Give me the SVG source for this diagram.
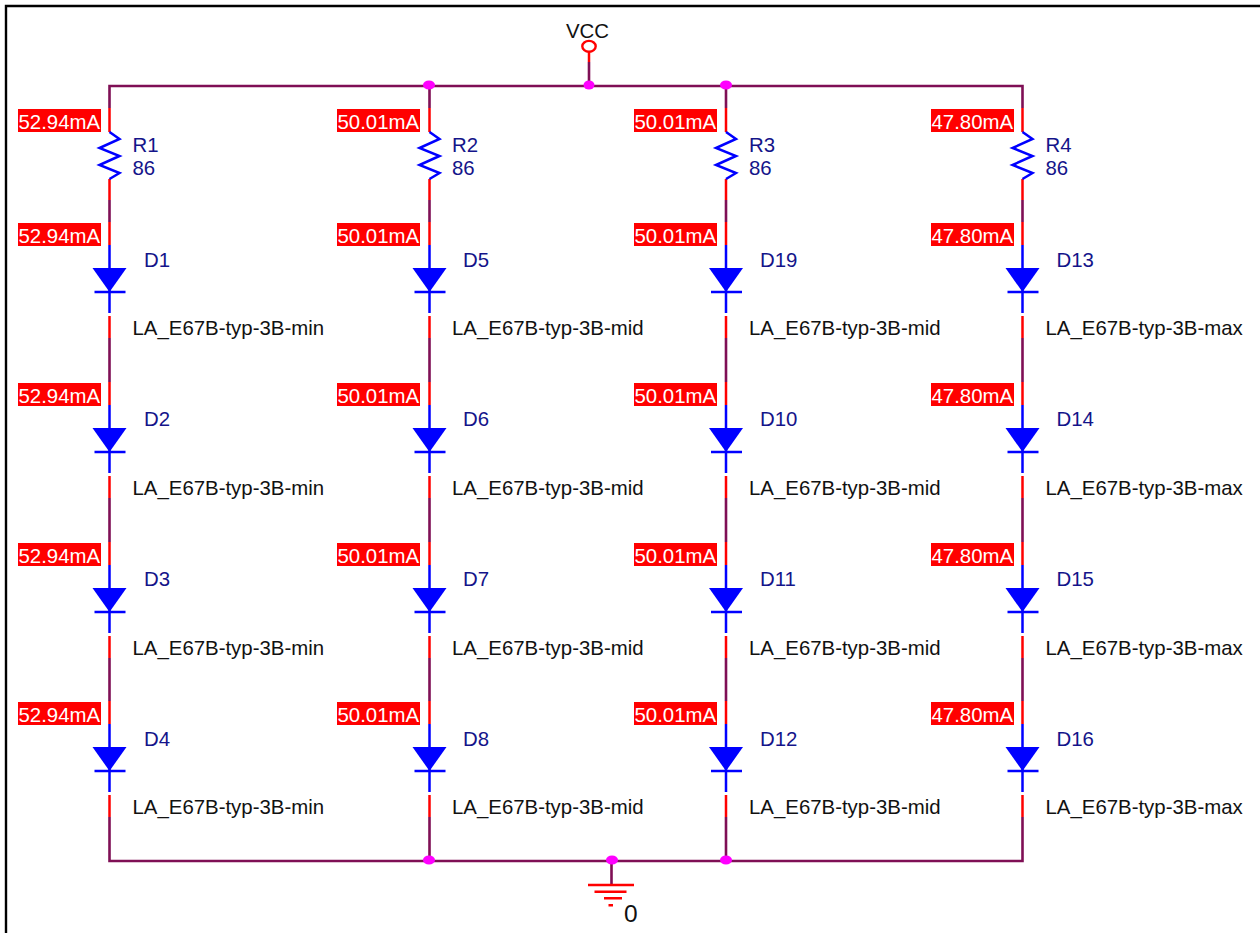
<svg xmlns="http://www.w3.org/2000/svg" xmlns:xlink="http://www.w3.org/1999/xlink" width="1260" height="933" viewBox="0 0 1260 933">
<style>
text{font-family:"Liberation Sans",Arial,sans-serif;font-size:20.4px}
.w{fill:none;stroke:#7f0f55;stroke-width:2.6}
.r{fill:none;stroke:#f00;stroke-width:2.5}
.b{fill:none;stroke:#00f;stroke-width:2.5}
.n{fill:#14148a}
.k{fill:#111}
.c{fill:#fff}
.f{fill:#f00}
.j{fill:#f0f}
</style>
<defs>
<g id="res"><path class="r" d="M0 22V46M0 93V114"/><path class="b" d="M0 46 L10 53 L-10 62 L10 70 L-10 79 L10 87 L0 93"/></g>
<g id="dio"><path class="r" d="M0 0V23M0 94V116"/><path class="b" d="M0 23V91M-15 70H16"/><path d="M-17 46H17L0 70Z" fill="#00f"/></g>
</defs>
<rect width="1260" height="933" fill="#fff"/>
<path d="M6 933V6H1260" fill="none" stroke="#000" stroke-width="2.4"/>
<g id="connectors">
<path class="w" d="M109.5 108V86H1022.5V108"/>
<path class="w" d="M429.5 86V108M726 86V108M589 62V86"/>
<path class="w" d="M109.5 200V222M429.5 200V222M726 200V222M1022.5 200V222"/>
<path class="w" d="M109.5 338V382M429.5 338V382M726 338V382M1022.5 338V382"/>
<path class="w" d="M109.5 498V542M429.5 498V542M726 498V542M1022.5 498V542"/>
<path class="w" d="M109.5 658V701M429.5 658V701M726 658V701M1022.5 658V701"/>
<path class="w" d="M109.5 817V861H1022.5V817M429.5 817V861M726 817V861M611.5 861V884"/>
<ellipse class="j" cx="429" cy="85" rx="6" ry="4.6"/><ellipse class="j" cx="589" cy="85" rx="5.5" ry="4.6"/><ellipse class="j" cx="726" cy="85" rx="6" ry="4.6"/>
<ellipse class="j" cx="429" cy="860" rx="6" ry="4.6"/><ellipse class="j" cx="612" cy="860" rx="6" ry="4.6"/><ellipse class="j" cx="726" cy="860" rx="6" ry="4.6"/>
</g>
<g id="VCC"><text class="k" x="566" y="38">VCC</text><ellipse cx="589" cy="46.3" rx="6.7" ry="5.4" fill="none" stroke="#f00" stroke-width="2.4"/><path class="r" d="M589 52V62"/></g>
<g id="GND"><path class="r" d="M588 885H634M594.5 891.7H626.5M604 898.3H622M608.5 905.3H613"/><text class="k" x="624" y="922" style="font-size:24.5px">0</text></g>

<g id="R1" transform="translate(109.5 86)"><rect class="f" x="-91.5" y="23" width="83" height="23"/><text class="c" x="-91" y="43">52.94mA</text><use href="#res"/><text class="n" x="23" y="66">R1</text><text class="n" x="23" y="89">86</text></g>
<g id="R2" transform="translate(429.5 86)"><rect class="f" x="-92.5" y="23" width="83" height="23"/><text class="c" x="-92" y="43">50.01mA</text><use href="#res"/><text class="n" x="22.5" y="66">R2</text><text class="n" x="22.5" y="89">86</text></g>
<g id="R3" transform="translate(726 86)"><rect class="f" x="-92" y="23" width="83" height="23"/><text class="c" x="-91.5" y="43">50.01mA</text><use href="#res"/><text class="n" x="23" y="66">R3</text><text class="n" x="23" y="89">86</text></g>
<g id="R4" transform="translate(1022.5 86)"><rect class="f" x="-91.5" y="23" width="83" height="23"/><text class="c" x="-91" y="43">47.80mA</text><use href="#res"/><text class="n" x="23" y="66">R4</text><text class="n" x="23" y="89">86</text></g>

<g id="D1" transform="translate(109.5 222)"><rect class="f" x="-91.5" y="1" width="83" height="23"/><text class="c" x="-91" y="21">52.94mA</text><use href="#dio"/><text class="n" x="34.5" y="45">D1</text><text class="k" x="23" y="113">LA_E67B-typ-3B-min</text></g>
<g id="D2" transform="translate(109.5 382)"><rect class="f" x="-91.5" y="1" width="83" height="23"/><text class="c" x="-91" y="21">52.94mA</text><use href="#dio"/><text class="n" x="34.5" y="44">D2</text><text class="k" x="23" y="113">LA_E67B-typ-3B-min</text></g>
<g id="D3" transform="translate(109.5 542)"><rect class="f" x="-91.5" y="1" width="83" height="23"/><text class="c" x="-91" y="21">52.94mA</text><use href="#dio"/><text class="n" x="34.5" y="44">D3</text><text class="k" x="23" y="113">LA_E67B-typ-3B-min</text></g>
<g id="D4" transform="translate(109.5 701)"><rect class="f" x="-91.5" y="1" width="83" height="23"/><text class="c" x="-91" y="21">52.94mA</text><use href="#dio"/><text class="n" x="34.5" y="45">D4</text><text class="k" x="23" y="113">LA_E67B-typ-3B-min</text></g>

<g id="D5" transform="translate(429.5 222)"><rect class="f" x="-92.5" y="1" width="83" height="23"/><text class="c" x="-92" y="21">50.01mA</text><use href="#dio"/><text class="n" x="33.5" y="45">D5</text><text class="k" x="22.5" y="113">LA_E67B-typ-3B-mid</text></g>
<g id="D6" transform="translate(429.5 382)"><rect class="f" x="-92.5" y="1" width="83" height="23"/><text class="c" x="-92" y="21">50.01mA</text><use href="#dio"/><text class="n" x="33.5" y="44">D6</text><text class="k" x="22.5" y="113">LA_E67B-typ-3B-mid</text></g>
<g id="D7" transform="translate(429.5 542)"><rect class="f" x="-92.5" y="1" width="83" height="23"/><text class="c" x="-92" y="21">50.01mA</text><use href="#dio"/><text class="n" x="33.5" y="44">D7</text><text class="k" x="22.5" y="113">LA_E67B-typ-3B-mid</text></g>
<g id="D8" transform="translate(429.5 701)"><rect class="f" x="-92.5" y="1" width="83" height="23"/><text class="c" x="-92" y="21">50.01mA</text><use href="#dio"/><text class="n" x="33.5" y="45">D8</text><text class="k" x="22.5" y="113">LA_E67B-typ-3B-mid</text></g>

<g id="D19" transform="translate(726 222)"><rect class="f" x="-92" y="1" width="83" height="23"/><text class="c" x="-91.5" y="21">50.01mA</text><use href="#dio"/><text class="n" x="34" y="45">D19</text><text class="k" x="23" y="113">LA_E67B-typ-3B-mid</text></g>
<g id="D10" transform="translate(726 382)"><rect class="f" x="-92" y="1" width="83" height="23"/><text class="c" x="-91.5" y="21">50.01mA</text><use href="#dio"/><text class="n" x="34" y="44">D10</text><text class="k" x="23" y="113">LA_E67B-typ-3B-mid</text></g>
<g id="D11" transform="translate(726 542)"><rect class="f" x="-92" y="1" width="83" height="23"/><text class="c" x="-91.5" y="21">50.01mA</text><use href="#dio"/><text class="n" x="34" y="44">D11</text><text class="k" x="23" y="113">LA_E67B-typ-3B-mid</text></g>
<g id="D12" transform="translate(726 701)"><rect class="f" x="-92" y="1" width="83" height="23"/><text class="c" x="-91.5" y="21">50.01mA</text><use href="#dio"/><text class="n" x="34" y="45">D12</text><text class="k" x="23" y="113">LA_E67B-typ-3B-mid</text></g>

<g id="D13" transform="translate(1022.5 222)"><rect class="f" x="-91.5" y="1" width="83" height="23"/><text class="c" x="-91" y="21">47.80mA</text><use href="#dio"/><text class="n" x="34" y="45">D13</text><text class="k" x="23" y="113">LA_E67B-typ-3B-max</text></g>
<g id="D14" transform="translate(1022.5 382)"><rect class="f" x="-91.5" y="1" width="83" height="23"/><text class="c" x="-91" y="21">47.80mA</text><use href="#dio"/><text class="n" x="34" y="44">D14</text><text class="k" x="23" y="113">LA_E67B-typ-3B-max</text></g>
<g id="D15" transform="translate(1022.5 542)"><rect class="f" x="-91.5" y="1" width="83" height="23"/><text class="c" x="-91" y="21">47.80mA</text><use href="#dio"/><text class="n" x="34" y="44">D15</text><text class="k" x="23" y="113">LA_E67B-typ-3B-max</text></g>
<g id="D16" transform="translate(1022.5 701)"><rect class="f" x="-91.5" y="1" width="83" height="23"/><text class="c" x="-91" y="21">47.80mA</text><use href="#dio"/><text class="n" x="34" y="45">D16</text><text class="k" x="23" y="113">LA_E67B-typ-3B-max</text></g>
</svg>
